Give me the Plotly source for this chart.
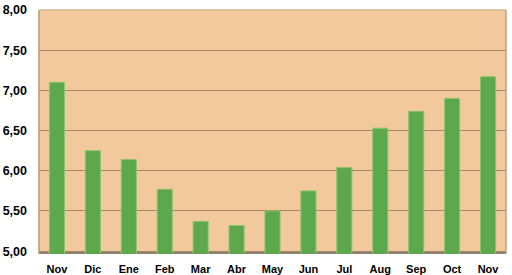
import plotly.graph_objects as go

months = ["Nov", "Dic", "Ene", "Feb", "Mar", "Abr", "May", "Jun", "Jul", "Aug", "Sep", "Oct", "Nov"]
values = [7.10, 6.25, 6.14, 5.77, 5.37, 5.32, 5.50, 5.75, 6.04, 6.53, 6.74, 6.90, 7.17]
y_ticks = [5.0, 5.5, 6.0, 6.5, 7.0, 7.5, 8.0]
y_tick_labels = ["5,00", "5,50", "6,00", "6,50", "7,00", "7,50", "8,00"]

x = list(range(len(months)))

fig = go.Figure()
fig.add_trace(go.Bar(
    x=x, y=values, base=0,
    marker=dict(color="#5DA84C", line=dict(color="#8CC46E", width=1)),
    width=0.42,
))

fig.update_layout(
    width=512, height=275,
    margin=dict(l=39, r=6, t=10, b=21),
    paper_bgcolor="white",
    plot_bgcolor="#F2C99C",
    showlegend=False,
    font=dict(family="Liberation Sans", size=11, color="black"),
    xaxis=dict(
        tickmode="array", tickvals=x, ticktext=[f"<b>{m}</b>" for m in months],
        range=[-0.5, len(months) - 0.5], showgrid=False, ticks="",
        showline=False, tickfont=dict(size=11), ticklabelstandoff=7,
        automargin=False,
    ),
    yaxis=dict(
        tickmode="array", tickvals=y_ticks, ticktext=[f"<b>{t}</b>" for t in y_tick_labels],
        range=[4.965, 8.0], showgrid=True, gridcolor="#A88468", gridwidth=1,
        zeroline=False, ticks="", showline=False, tickfont=dict(size=12.5),
        ticklabelstandoff=11, automargin=False,
    ),
)
# floor strip and wall edges
fig.add_shape(type="rect", xref="paper", yref="y", x0=0, x1=1, y0=4.965, y1=5.0,
              fillcolor="#8C8070", line_width=0, layer="below")
fig.add_shape(type="line", xref="paper", yref="paper", x0=0, x1=0, y0=0, y1=1,
              line=dict(color="#B89878", width=1.5))
fig.add_shape(type="line", xref="paper", yref="paper", x0=0, x1=1, y0=1, y1=1,
              line=dict(color="#D8B890", width=1.5))
fig.add_shape(type="line", xref="paper", yref="paper", x0=1, x1=1, y0=0, y1=1,
              line=dict(color="#C0A080", width=1.5))

fig.write_html("out.html")
